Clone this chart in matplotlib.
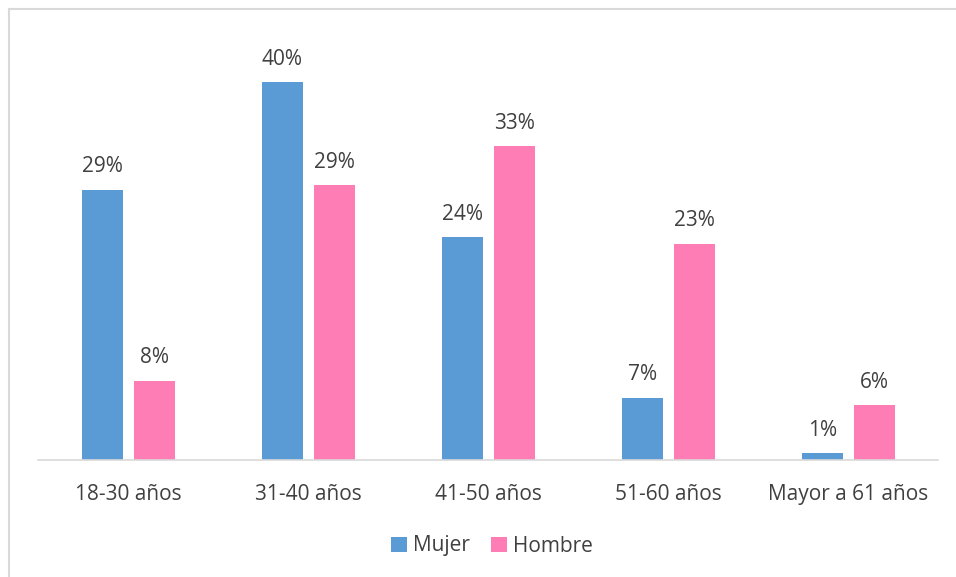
import numpy as np
import matplotlib

matplotlib.use('Agg')
import matplotlib.pyplot as plt
from matplotlib.lines import Line2D

categories = ['18-30 años', '31-40 años', '41-50 años', '51-60 años', 'Mayor a 61 años']
mujer = [28.6, 40.0, 23.6, 6.6, 0.7]
hombre = [8.4, 29.1, 33.2, 22.9, 5.8]
mujer_labels = ['29%', '40%', '24%', '7%', '1%']
hombre_labels = ['8%', '29%', '33%', '23%', '6%']

plt.rcParams['font.family'] = ['Open Sans', 'DejaVu Sans']
text_color = '#404040'

fig = plt.figure(figsize=(9.56, 5.77), dpi=100)
ax = fig.add_axes([38 / 956, 1 - 460 / 577, 900 / 956, 425 / 577])

x = np.arange(len(categories))
w = 0.228
b1 = ax.bar(x - 0.142, mujer, w, color='#5B9BD5', label='Mujer')
b2 = ax.bar(x + 0.147, hombre, w, color='#FF7DB5', label='Hombre')

for bars, labels in ((b1, mujer_labels), (b2, hombre_labels)):
    for bar, lab in zip(bars, labels):
        ax.annotate(lab, (bar.get_x() + bar.get_width() / 2, bar.get_height()),
                    xytext=(0, 9), textcoords='offset points', ha='center', va='bottom',
                    fontsize=15, color=text_color)

ax.set_xlim(-0.5, len(categories) - 0.5)
ax.set_ylim(0, 45)
ax.set_yticks([])
ax.set_xticks(x)
ax.set_xticklabels(categories, fontsize=15, color=text_color)
ax.tick_params(axis='x', length=0, pad=17)
for s in ['top', 'right', 'left']:
    ax.spines[s].set_visible(False)
ax.spines['bottom'].set_color('#D9D9D9')
ax.spines['bottom'].set_linewidth(1.2)

leg = fig.legend(loc='center', bbox_to_anchor=(492 / 956, 1 - 546 / 577), ncol=2, frameon=False,
                 fontsize=15, handlelength=0.75, handleheight=0.75, handletextpad=0.3, columnspacing=1.0)
for t in leg.get_texts():
    t.set_color(text_color)

# outer frame: only left and top edges are visible
fx, fy = 8.5 / 956, 1 - 8.5 / 577
fig.add_artist(Line2D([fx, fx], [0, fy], transform=fig.transFigure, color='#D9D9D9', lw=1.5))
fig.add_artist(Line2D([fx, 1], [fy, fy], transform=fig.transFigure, color='#D9D9D9', lw=1.5))

fig.savefig('out.png', dpi=100)
